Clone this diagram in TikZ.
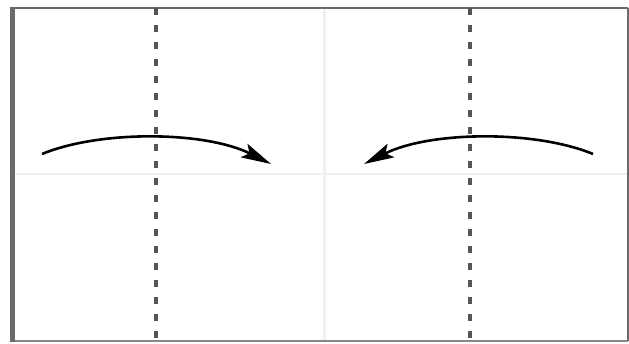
\documentclass[tikz,border=0pt]{standalone}
\usetikzlibrary{arrows.meta}
\definecolor{frame}{HTML}{6A6A6A}
\definecolor{faint}{HTML}{F0F0F0}
\definecolor{dashc}{HTML}{555555}
\tikzset{
  foldline/.style={draw=dashc, line width=4pt, dash pattern=on 7pt off 10pt},
  guide/.style={draw=faint, line width=3pt},
  turnarrow/.style={draw=black, line width=2.6pt, -{Stealth[length=30pt,width=15pt,inset=6pt]}}
}
\begin{document}
\begin{tikzpicture}[x=1pt,y=-1pt]
\useasboundingbox (0,0) rectangle (629,343);
\fill[white] (0,0) rectangle (629,343);
% faint guides
\coordinate (gt) at (324,8);
\coordinate (gb) at (324,341);
\coordinate (gl) at (14,174);
\coordinate (gr) at (628,174);
\draw[guide] (gt) -- (gb);
\draw[draw=faint, line width=1.5pt] (gl) -- (gr);
% frame
\coordinate (tl) at (14,8);
\coordinate (tr) at (628,8);
\coordinate (br) at (628,341);
\coordinate (bl) at (14,341);
\draw[frame, line width=2pt] (tl) -- (tr);
\draw[frame, line width=1.2pt] (tr) -- (br);
\draw[frame!80, line width=2pt] (br) -- (bl);
\draw[frame, line width=5pt] (12.5,7) -- (12.5,342);
% fold lines
\coordinate (f1t) at (156,8);
\coordinate (f1b) at (156,341);
\coordinate (f2t) at (470,8);
\coordinate (f2b) at (470,341);
\draw[foldline] (f1t) -- (f1b);
\draw[foldline] (f2t) -- (f2b);
% arrows
\coordinate (a1s) at (42,154);
\coordinate (a1e) at (271,164);
\coordinate (a2s) at (593,154);
\coordinate (a2e) at (364,164);
\draw[turnarrow] (a1s) .. controls (100,130) and (205,131) .. (a1e);
\draw[turnarrow] (a2s) .. controls (535,130) and (430,131) .. (a2e);
\end{tikzpicture}
\end{document}
